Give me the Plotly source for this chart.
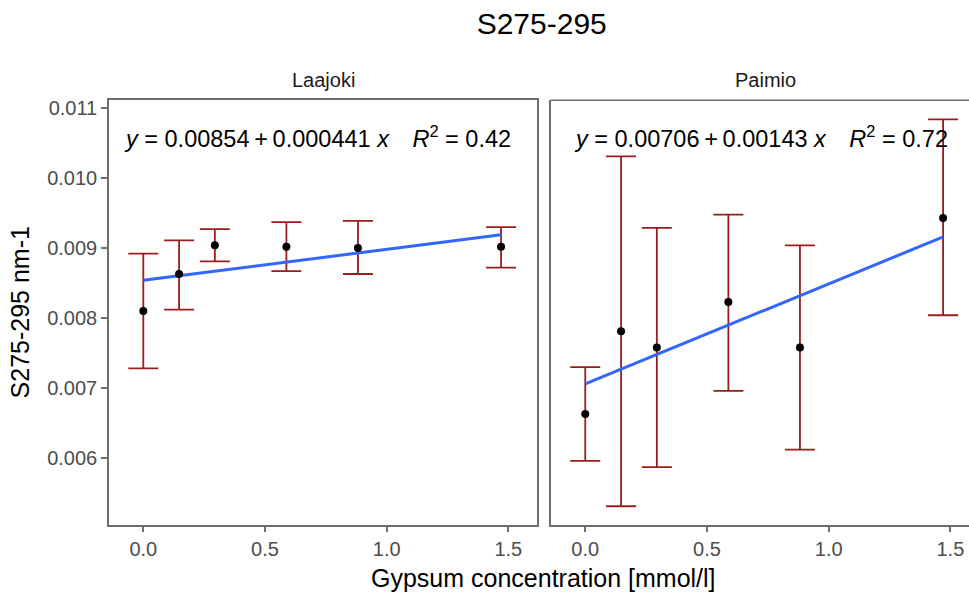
import plotly.graph_objects as go

# ---------------- data ----------------
dose = [0.0, 0.147, 0.294, 0.588, 0.882, 1.47]

laajoki_mean = [0.00810, 0.00863, 0.00904, 0.00902, 0.00900, 0.00902]
laajoki_upper = [0.00892, 0.00911, 0.00927, 0.00937, 0.00939, 0.00930]
laajoki_lower = [0.00728, 0.00812, 0.00881, 0.00867, 0.00863, 0.00872]

paimio_mean = [0.00663, 0.00781, 0.00758, 0.00823, 0.00758, 0.00943]
paimio_upper = [0.00730, 0.01031, 0.00929, 0.00948, 0.00904, 0.01084]
paimio_lower = [0.00596, 0.00531, 0.00587, 0.00696, 0.00612, 0.00804]

fit_x = [0.0, 1.47]
laajoki_fit = [0.00854, 0.00919]
paimio_fit = [0.00706, 0.00916]

panels = ["Laajoki", "Paimio"]
equations = [
    "<i>y</i> = 0.00854\u2009+\u20090.000441 <i>x</i>\u2003<i>R</i><sup>2</sup> = 0.42",
    "<i>y</i> = 0.00706\u2009+\u20090.00143 <i>x</i>\u2003<i>R</i><sup>2</sup> = 0.72",
]
y_ticks = [0.006, 0.007, 0.008, 0.009, 0.010, 0.011]
x_ticks = [0.0, 0.5, 1.0, 1.5]

# ---------------- style ----------------
W, H = 969, 597
FONT = "Liberation Sans"
ERR = "#9a1c1c"
LINE = "#3366FF"
AX = "#6e6e6e"
TICKC = "#4D4D4D"


def px(x):
    return x / W


def py(y):
    return 1 - y / H


fig = go.Figure()

series = [
    ("x", "y", laajoki_mean, laajoki_upper, laajoki_lower, laajoki_fit),
    ("x2", "y2", paimio_mean, paimio_upper, paimio_lower, paimio_fit),
]
for xa, ya, m, up, lo, fit in series:
    plus = [u - v for u, v in zip(up, m)]
    minus = [v - l for v, l in zip(m, lo)]
    fig.add_trace(go.Scatter(
        x=dose, y=m, xaxis=xa, yaxis=ya, mode="markers",
        marker=dict(size=1, color="rgba(0,0,0,0)"),
        error_y=dict(type="data", symmetric=False, array=plus, arrayminus=minus,
                     color=ERR, thickness=1.8, width=15),
        showlegend=False, hoverinfo="skip"))
    fig.add_trace(go.Scatter(
        x=fit_x, y=fit, xaxis=xa, yaxis=ya, mode="lines",
        line=dict(color=LINE, width=3), showlegend=False))
    fig.add_trace(go.Scatter(
        x=dose, y=m, xaxis=xa, yaxis=ya, mode="markers",
        marker=dict(size=8, color="black"), showlegend=False))

yrange = [0.005047, 0.011114]
common_x = dict(
    showline=True, linecolor=AX, linewidth=1.5, ticks="outside", ticklen=6,
    tickwidth=1.5, tickcolor=AX, tickvals=x_ticks, tickformat=".1f",
    tickfont=dict(family=FONT, size=20, color=TICKC), showgrid=False,
    zeroline=False)

fig.update_layout(
    width=W, height=H, margin=dict(l=0, r=0, t=0, b=0),
    plot_bgcolor="white", paper_bgcolor="white",
    xaxis=dict(common_x, domain=[px(109), px(537.3)], range=[-0.141, 1.619],
               mirror=True, anchor="y"),
    xaxis2=dict(common_x, domain=[px(550.7), 1.0], range=[-0.142, 1.5765],
                mirror=False, anchor="y2"),
    yaxis=dict(domain=[py(524.3), py(97.7)], range=yrange, showline=True,
               linecolor=AX, linewidth=1.5, mirror=True, ticks="outside",
               ticklen=6, tickwidth=1.5, tickcolor=AX, tickvals=y_ticks,
               tickformat=".3f", tickfont=dict(family=FONT, size=20, color=TICKC),
               showgrid=False, zeroline=False, anchor="x"),
    yaxis2=dict(domain=[py(524.3), py(97.7)], range=yrange, showline=True,
                linecolor=AX, linewidth=1.5, mirror=False, ticks="",
                showticklabels=False, showgrid=False, zeroline=False,
                anchor="x2", matches="y"),
    title=dict(text="S275-295", x=px(541.7), y=py(23.5), xanchor="center",
               yanchor="middle", font=dict(family=FONT, size=30, color="black")),
)

# top border of right panel
fig.add_shape(type="line", xref="x2 domain", yref="y2 domain", x0=0, x1=1,
              y0=1, y1=1, line=dict(color=AX, width=1.5))

ann = []
# strip labels
ann.append(dict(text=panels[0], x=px((109 + 537.3) / 2), y=py(77), xref="paper",
                yref="paper", showarrow=False, xanchor="center", yanchor="middle",
                font=dict(family=FONT, size=20, color="#1A1A1A")))
ann.append(dict(text=panels[1], x=px(765), y=py(77), xref="paper",
                yref="paper", showarrow=False, xanchor="center", yanchor="middle",
                font=dict(family=FONT, size=20, color="#1A1A1A")))
# equations
ann.append(dict(text=equations[0], x=px(121.7), y=py(135), xref="paper",
                yref="paper", showarrow=False, xanchor="left", yanchor="middle",
                font=dict(family=FONT, size=23.5, color="black")))
ann.append(dict(text=equations[1], x=px(571.7), y=py(135), xref="paper",
                yref="paper", showarrow=False, xanchor="left", yanchor="middle",
                font=dict(family=FONT, size=23.5, color="black")))
# axis titles
ann.append(dict(text="Gypsum concentration [mmol/l]", x=px(543), y=py(578),
                xref="paper", yref="paper", showarrow=False, xanchor="center",
                yanchor="middle", font=dict(family=FONT, size=25, color="black")))
ann.append(dict(text="S275-295 nm-1", x=px(20), y=py(311), xref="paper",
                yref="paper", showarrow=False, textangle=-90, xanchor="center",
                yanchor="middle", font=dict(family=FONT, size=25, color="black")))
fig.update_layout(annotations=ann)

fig.write_html("out.html")
